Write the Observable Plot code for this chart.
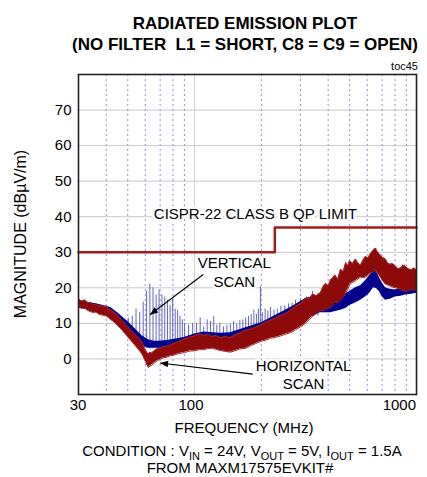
<!DOCTYPE html>
<html>
<head>
<meta charset="utf-8">
<script src="https://cdn.jsdelivr.net/npm/d3@7"></script>
<script src="https://cdn.jsdelivr.net/npm/@observablehq/plot@0.6"></script>
<style>
  html, body { margin: 0; padding: 0; background: #fff; }
  #chart { width: 427px; height: 477px; }
  svg text { font-family: "Liberation Sans", Arial, sans-serif; }
</style>
</head>
<body>
<div id="chart"></div>
<script>
// ---- data ----
const xTicks = [30, 100, 1000];
const yTicks = [0, 10, 20, 30, 40, 50, 60, 70];
const minorFreqs = [40, 50, 60, 70, 80, 90, 200, 300, 400, 500, 600, 700, 800, 900];

// CISPR-22 class B QP limit
const limitFreq = [30, 230, 1000];
const limitLevel = [30, 37, 37];

// Horizontal scan (dark red) envelope
const hFreq = [30, 31, 32, 33, 34, 35, 36, 37, 38, 39, 40, 41, 42, 43, 44, 45, 46, 47, 48, 49, 50, 52, 54, 56, 58, 60, 61, 62, 63, 64, 66, 68, 70, 72, 75, 78, 80, 85, 90, 95, 100, 105, 110, 115, 120, 125, 130, 138, 145, 152, 160, 170, 180, 188, 200, 210, 220, 232, 245, 258, 271, 285, 300, 316, 328, 340, 355, 369, 380, 390, 400, 410, 420, 430, 442, 455, 468, 480, 490, 500, 515, 531, 545, 560, 575, 589, 605, 620, 637, 654, 667, 680, 700, 725, 742, 760, 780, 804, 826, 850, 870, 892, 920, 950, 975, 1000];
const hLo = [14.6, 14.2, 14.4, 13.6, 13.3, 13.0, 13.2, 12.6, 12.4, 12.2, 12.1, 11.6, 11.0, 10.6, 10.0, 9.4, 8.8, 8.2, 7.5, 6.9, 6.2, 5.0, 3.8, 2.6, 1.4, -0.6, -1.6, -2.4, -2.0, -1.8, -1.1, -0.5, -0.1, 0.3, 0.5, 0.9, 1.0, 1.5, 1.8, 2.2, 2.3, 2.6, 2.6, 2.9, 3.0, 2.7, 2.4, 2.1, 1.9, 2.3, 2.8, 3.0, 3.8, 4.3, 5.0, 5.3, 5.8, 6.1, 6.5, 7.0, 7.4, 8.2, 9.0, 10.0, 11.0, 12.0, 12.8, 13.7, 13.5, 14.0, 14.2, 14.5, 15.2, 16.0, 15.8, 16.5, 17.5, 18.5, 19.5, 21.0, 21.5, 22.0, 22.5, 23.0, 22.8, 23.0, 23.5, 24.0, 24.5, 25.0, 24.2, 23.5, 22.2, 21.0, 20.8, 20.5, 20.2, 20.0, 19.8, 19.5, 19.3, 19.0, 19.2, 19.5, 19.4, 19.4];
const hHi = [16.9, 16.2, 16.6, 15.8, 15.9, 15.2, 15.6, 14.9, 15.1, 14.6, 14.9, 14.0, 13.9, 13.2, 12.9, 12.1, 11.6, 10.8, 10.4, 9.6, 9.1, 7.9, 6.9, 5.9, 4.7, 2.6, 1.8, 1.4, 1.9, 1.6, 2.3, 2.9, 3.0, 3.4, 3.6, 3.9, 4.3, 4.9, 5.6, 6.1, 6.5, 7.0, 6.6, 6.9, 6.3, 6.6, 6.0, 6.3, 6.0, 6.8, 7.3, 8.1, 8.4, 8.9, 9.6, 10.4, 10.9, 11.5, 12.3, 12.8, 13.8, 14.8, 15.6, 17.1, 16.8, 18.2, 17.8, 18.6, 20.4, 21.2, 20.6, 22.2, 22.8, 23.6, 22.4, 25.2, 24.6, 27.1, 26.2, 27.6, 26.8, 28.1, 26.9, 26.4, 27.8, 28.8, 28.4, 29.6, 30.4, 31.2, 30.1, 29.6, 28.6, 28.1, 26.9, 26.6, 26.8, 26.1, 25.4, 25.6, 26.4, 26.1, 25.3, 25.1, 25.6, 25.0];

// Vertical scan (navy) envelope
const vFreq = [30, 34, 38, 42, 46, 50, 54, 58, 62, 66, 70, 75, 80, 90, 100, 110, 130, 145, 170, 200, 220, 271, 316, 369, 410, 455, 480, 500, 531, 560, 589, 615, 640, 660, 680, 700, 725, 760, 804, 850, 892, 950, 1000];
const vLo = [14.5, 13.5, 12.8, 12.0, 10.0, 7.5, 5.5, 3.6, 3.0, 3.0, 3.0, 3.2, 3.4, 3.6, 4.0, 4.0, 4.0, 4.0, 5.0, 6.0, 7.0, 9.0, 11.0, 13.0, 13.0, 13.7, 14.2, 15.0, 15.7, 16.5, 17.4, 18.5, 20.0, 19.8, 19.0, 17.5, 16.5, 16.8, 17.4, 17.6, 18.0, 18.2, 18.5];
const vHi = [16.5, 15.8, 15.2, 14.5, 12.5, 10.5, 8.5, 6.5, 5.4, 5.0, 5.0, 5.2, 5.5, 6.0, 7.0, 7.6, 7.2, 7.4, 8.8, 10.2, 11.5, 14.5, 17.0, 18.0, 19.0, 17.4, 18.4, 19.0, 20.0, 20.6, 22.0, 23.4, 25.6, 24.6, 23.0, 21.4, 20.0, 19.6, 19.4, 19.9, 20.0, 20.2, 20.0];

// Vertical scan harmonic spikes
const spikeFreq = [46, 48.2, 50.3, 52.4, 54.5, 56.6, 58.7, 60.8, 62.9, 65, 67.1, 69.2, 71.3, 73.4, 75.5, 77.6, 79.7, 81.8, 83.9, 86, 88.1, 90.2, 94, 98, 102, 106, 110, 114, 118, 122, 126, 130, 135, 140, 145, 150, 155, 160, 165, 170, 175, 180, 185, 190, 194, 198, 202, 208, 214, 220, 228, 236, 245, 255, 265, 275, 285, 300, 320, 340, 360, 380, 400];
const spikePeak = [9, 10.5, 11.4, 12, 14, 13, 16, 19, 21, 20, 18, 19.4, 18, 17.4, 16.5, 15, 17, 14, 13.7, 12, 11, 10, 9.5, 10, 10, 11.5, 9, 11, 10.5, 12, 9.5, 10, 9, 9.5, 9.8, 10.5, 9.8, 10.8, 11, 11.5, 12, 12.5, 13.7, 12.5, 14, 20.3, 13, 14, 13.5, 14.5, 13.7, 14, 14.8, 15, 15.5, 15.7, 16.5, 17, 17.5, 19, 18.5, 19.5, 20];
const spikeBase = [10, 9, 8, 6.5, 5, 4, 3.5, 3, 2.8, 2.8, 3, 3, 3.2, 3.2, 3.2, 3.4, 3.4, 3.5, 3.5, 3.6, 3.6, 3.6, 3.8, 4, 4, 4, 4, 4, 4, 4, 4, 4, 4, 4, 4, 4, 4, 4.5, 4.5, 5, 5, 5, 5.5, 5.5, 5.5, 5.5, 6, 6, 6.5, 7, 7, 7.5, 7.5, 8, 8, 8.5, 9, 10, 11, 12, 12, 13, 13];

// ---- tables ----
const limit = limitFreq.map((f, i) => ({ f, v: limitLevel[i] }));
const hScan = hFreq.map((f, i) => ({ f, lo: hLo[i], hi: hHi[i] }));
const vScan = vFreq.map((f, i) => ({ f, lo: vLo[i], hi: vHi[i] }));
const spikes = spikeFreq.map((f, i) => ({ f, base: spikeBase[i], peak: spikePeak[i] }));

const notes = [
  { f: 188, v: 40.6, text: "CISPR-22 CLASS B QP LIMIT" },
  { f: 151, v: 27.0, text: "VERTICAL" },
  { f: 151, v: 21.6, text: "SCAN" },
  { f: 310, v: -1.9, text: "HORIZONTAL" },
  { f: 310, v: -7.0, text: "SCAN" }
];
const arrows = [
  { f1: 110, v1: 23.6, f2: 63.3, v2: 12.3 },
  { f1: 184, v1: -4.4, f2: 70.3, v2: -1.3 }
];

const RED = "#8c0a0a";
const NAVY = "#00008c";

const plot = Plot.plot({
  width: 427,
  height: 477,
  marginLeft: 78,
  marginRight: 11,
  marginTop: 74,
  marginBottom: 83,
  style: { fontFamily: "Liberation Sans, Arial, sans-serif", fontSize: "15px", background: "#fff", color: "#000" },
  x: { type: "log", domain: [30, 1000], axis: null },
  y: { domain: [-10, 80] },
  marks: [
    Plot.gridY(yTicks, { stroke: "#c8c8c8", strokeOpacity: 1, strokeWidth: 1 }),
    Plot.gridX(minorFreqs, { stroke: "#8c8cf0", strokeOpacity: 1, strokeDasharray: "2,3", strokeWidth: 1 }),
    Plot.gridX([100], { stroke: "#d0d0d0", strokeOpacity: 1 }),
    Plot.ruleX(spikes, { x: "f", y1: "base", y2: "peak", stroke: "#4848c0", strokeWidth: 1, strokeOpacity: 0.85 }),
    Plot.areaY(vScan, { x: "f", y1: "lo", y2: "hi", fill: NAVY, fillOpacity: 1 }),
    Plot.areaY(hScan, { x: "f", y1: "lo", y2: "hi", fill: RED, fillOpacity: 1 }),
    Plot.line(hScan, { x: "f", y: "hi", stroke: "#a82828", strokeWidth: 1 }),
    Plot.line(hScan, { x: "f", y: "lo", stroke: "#a82828", strokeWidth: 1 }),
    Plot.line(limit, { x: "f", y: "v", curve: "step-after", stroke: "#a01c1c", strokeWidth: 2.5 }),
    Plot.text(notes, { x: "f", y: "v", text: "text", fontSize: 15, fill: "#000", stroke: "#fff", strokeWidth: 5 }),
    Plot.axisY(yTicks, { tickSize: 0, tickPadding: 7, label: null, fontSize: 15 }),
    Plot.frame({ stroke: "#222", strokeWidth: 1.6 })
  ]
});

document.getElementById("chart").appendChild(plot);

const svg = d3.select(plot);
const sx = plot.scale("x"), sy = plot.scale("y");

// x tick labels
xTicks.forEach((t, i) => {
  svg.append("text").attr("x", sx.apply(t) + (i === 1 ? -3 : 0)).attr("y", 410)
    .attr("text-anchor", i === xTicks.length - 1 ? "end" : "middle")
    .attr("font-size", 15).text(String(t));
});

// arrows with filled heads
const defs = svg.append("defs");
defs.append("marker").attr("id", "ah").attr("viewBox", "0 -5 10 10")
  .attr("refX", 10).attr("refY", 0).attr("markerWidth", 12).attr("markerHeight", 8)
  .attr("markerUnits", "userSpaceOnUse").attr("orient", "auto")
  .append("path").attr("d", "M0,-4L10,0L0,4Z").attr("fill", "#000");
arrows.forEach(a => {
  svg.append("line")
    .attr("x1", sx.apply(a.f1)).attr("y1", sy.apply(a.v1))
    .attr("x2", sx.apply(a.f2)).attr("y2", sy.apply(a.v2))
    .attr("stroke", "#000").attr("stroke-width", 1.1).attr("marker-end", "url(#ah)");
});

// titles and captions
const T = (x, y, s, opts = {}) => svg.append("text").attr("x", x).attr("y", y)
  .attr("text-anchor", opts.anchor || "middle").attr("font-size", opts.size || 15)
  .attr("font-weight", opts.weight || "normal").style("white-space", "pre").text(s);
T(245, 29, "RADIATED EMISSION PLOT", { size: 17, weight: "bold" });
T(245, 50, "(NO FILTER  L1 = SHORT, C8 = C9 = OPEN)", { size: 17, weight: "bold" });
T(418, 70, "toc45", { size: 11, anchor: "end" });
T(244, 433, "FREQUENCY (MHz)", { size: 15 });

const cap = svg.append("text").attr("x", 242).attr("y", 456).attr("text-anchor", "middle").attr("font-size", 15).style("white-space", "pre");
cap.append("tspan").text("CONDITION : V");
cap.append("tspan").attr("dy", 4).attr("font-size", 11).text("IN");
cap.append("tspan").attr("dy", -4).text(" = 24V, V");
cap.append("tspan").attr("dy", 4).attr("font-size", 11).text("OUT");
cap.append("tspan").attr("dy", -4).text(" = 5V, I");
cap.append("tspan").attr("dy", 4).attr("font-size", 11).text("OUT");
cap.append("tspan").attr("dy", -4).text(" = 1.5A");
T(240, 473, "FROM MAXM17575EVKIT#", { size: 15 });

svg.append("text").attr("transform", "translate(26,234) rotate(-90)")
  .attr("text-anchor", "middle").attr("font-size", 16).text("MAGNITUDE (dBµV/m)");
</script>
</body>
</html>
